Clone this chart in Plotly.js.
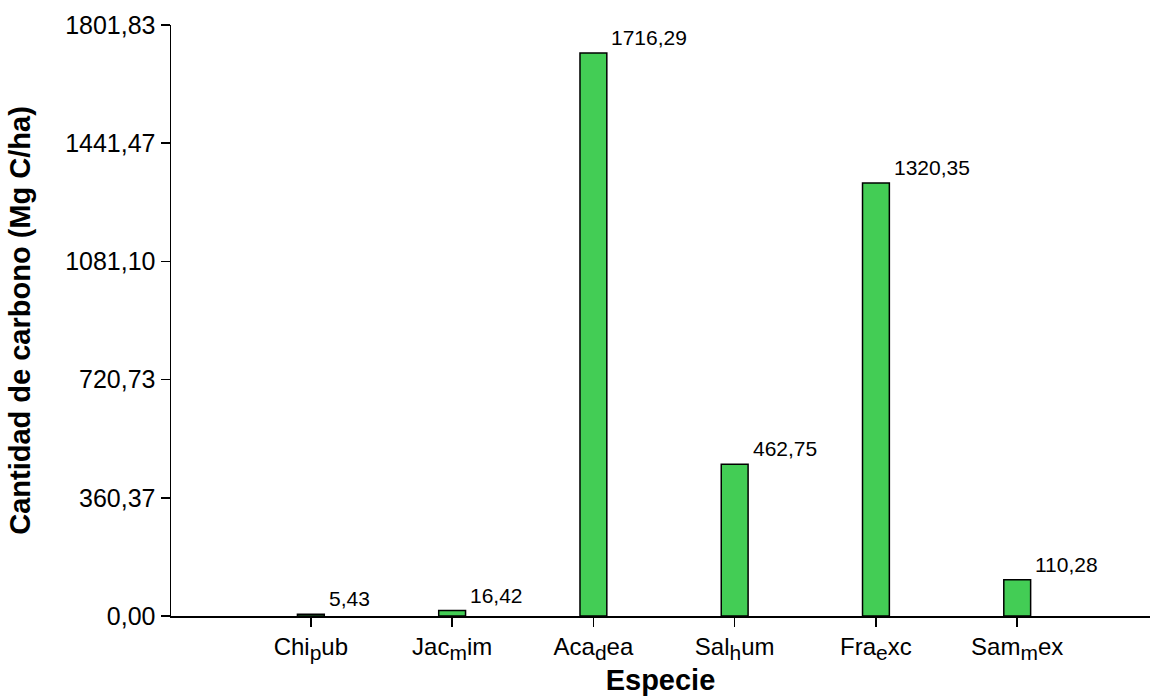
<!DOCTYPE html>
<html>
<head>
<meta charset="utf-8">
<script src="https://cdn.plot.ly/plotly-3.0.1.min.js"></script>
<style>html,body{margin:0;padding:0;background:#fff;}#chart{width:1150px;height:696px;}</style>
</head>
<body>
<div id="chart"></div>
<script>
const categories = ["Chi<sub>p</sub>ub", "Jac<sub>m</sub>im", "Aca<sub>d</sub>ea", "Sal<sub>h</sub>um", "Fra<sub>e</sub>xc", "Sam<sub>m</sub>ex"];
const carbonValues = [5.43, 16.42, 1716.29, 462.75, 1320.35, 110.28];
const valueLabels = ["5,43", "16,42", "1716,29", "462,75", "1320,35", "110,28"];
const yTickValues = [0, 360.37, 720.73, 1081.10, 1441.47, 1801.83];
const yTickLabels = ["0,00", "360,37", "720,73", "1081,10", "1441,47", "1801,83"];

const xPos = categories.map((c, i) => i);
const tickText = categories.map(c => c.replace(/<sub>(.*?)<\/sub>/, "<sub><span style='font-size:21px'>$1</span></sub>"));

const trace = {
  type: "bar",
  x: xPos,
  y: carbonValues,
  width: 0.19,
  marker: {color: "#43CD55", line: {color: "#000", width: 1.5}},
  hoverinfo: "skip"
};

const annotations = xPos.map((x, i) => ({
  x: x, y: carbonValues[i], xref: "x", yref: "y",
  text: valueLabels[i], showarrow: false,
  xanchor: "left", yanchor: "bottom", xshift: 16, yshift: 2,
  font: {family: "Liberation Sans, Arial, sans-serif", size: 21, color: "#000"}
}));

const layout = {
  width: 1150, height: 696,
  margin: {l: 171, r: 0, t: 25, b: 80},
  paper_bgcolor: "#fff", plot_bgcolor: "#fff",
  showlegend: false,
  font: {family: "Liberation Sans, Arial, sans-serif", color: "#000"},
  xaxis: {
    range: [-0.99, 5.94],
    tickvals: xPos, ticktext: tickText,
    ticks: "outside", ticklen: 9, tickwidth: 1.5, tickcolor: "#000",
    showline: true, linecolor: "#000", linewidth: 1.5,
    showgrid: false, zeroline: false,
    tickfont: {size: 24, color: "#000"},
    title: {text: "Especie", font: {size: 29, color: "#000", weight: "bold"}, standoff: 8},
    automargin: false
  },
  yaxis: {
    range: [0, 1801.83],
    tickvals: yTickValues, ticktext: yTickLabels,
    ticks: "outside", ticklen: 9, tickwidth: 1.5, tickcolor: "#000",
    showline: true, linecolor: "#000", linewidth: 1.5,
    showgrid: false, zeroline: false,
    tickfont: {size: 25, color: "#000"},
    title: {text: "Cantidad de carbono (Mg C/ha)", font: {size: 29, color: "#000", weight: "bold"}, standoff: 26},
    automargin: false
  },
  annotations: annotations
};

Plotly.newPlot("chart", [trace], layout, {staticPlot: true, displayModeBar: false});
</script>
</body>
</html>
